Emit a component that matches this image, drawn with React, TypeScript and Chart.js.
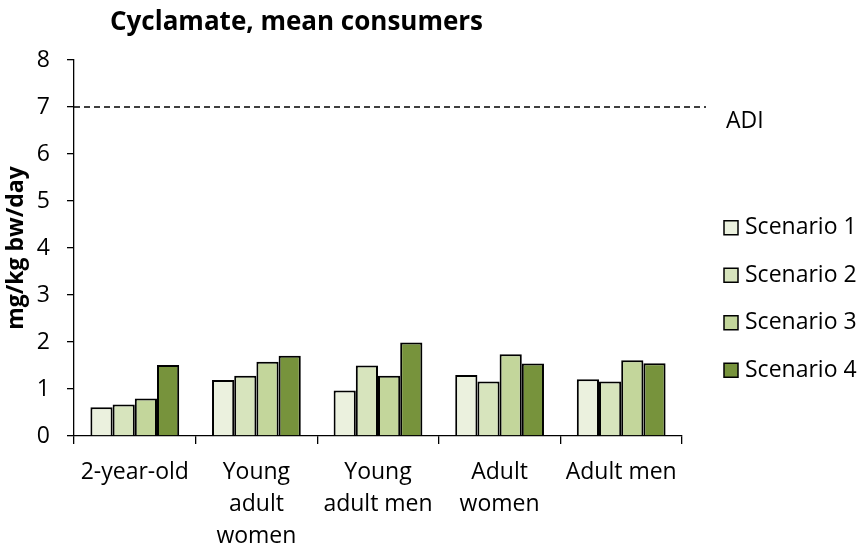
import React, { useEffect, useRef } from "react";
import { Chart, registerables } from "chart.js";

Chart.register(...registerables);

const categories: (string | string[])[] = [
  "2-year-old",
  ["Young", "adult", "women"],
  ["Young", "adult men"],
  ["Adult", "women"],
  "Adult men",
];
const scenario1 = [0.61, 1.19, 0.97, 1.3, 1.21];
const scenario2 = [0.67, 1.28, 1.5, 1.16, 1.16];
const scenario3 = [0.8, 1.58, 1.28, 1.74, 1.61];
const scenario4 = [1.51, 1.71, 1.99, 1.54, 1.55];
const seriesLabels = ["Scenario 1", "Scenario 2", "Scenario 3", "Scenario 4"];
const seriesColors = ["#EBF1DE", "#D7E4BD", "#C3D69B", "#77933C"];
const adiValue = 7;
const adiLabel = "ADI";
const chartTitle = "Cyclamate, mean consumers";
const yTitle = "mg/kg bw/day";
const yTicks = [0, 1, 2, 3, 4, 5, 6, 7, 8];

const FONT = "'Open Sans', sans-serif";

const extrasPlugin = {
  id: "extras",
  afterDatasetsDraw(chart: any) {
    const { ctx, chartArea, scales } = chart;
    const y = scales.y.getPixelForValue(adiValue);
    ctx.save();
    // ADI dashed line
    ctx.strokeStyle = "#000";
    ctx.lineWidth = 1.3;
    ctx.setLineDash([6, 4]);
    ctx.beginPath();
    ctx.moveTo(chartArea.left, y);
    ctx.lineTo(chartArea.right + 24, y);
    ctx.stroke();
    ctx.setLineDash([]);
    // ADI label
    ctx.fillStyle = "#000";
    ctx.font = `23px ${FONT}`;
    ctx.textAlign = "left";
    ctx.textBaseline = "middle";
    ctx.fillText(adiLabel, chartArea.right + 44, y + 14);
    // Title
    ctx.font = `bold 26px ${FONT}`;
    ctx.fillText(chartTitle, chartArea.left + 36, 23);
    // Legend
    const ds = chart.data.datasets;
    const lx = chartArea.right + 42;
    const midY = 299;
    const step = 47.5;
    ds.forEach((d: any, i: number) => {
      const cy = midY + (i - (ds.length - 1) / 2) * step;
      ctx.fillStyle = d.backgroundColor;
      ctx.fillRect(lx, cy - 7, 14, 14);
      ctx.strokeStyle = "#000";
      ctx.lineWidth = 1.5;
      ctx.strokeRect(lx, cy - 7, 14, 14);
      ctx.fillStyle = "#000";
      ctx.font = `23px ${FONT}`;
      ctx.textBaseline = "middle";
      ctx.fillText(d.label, lx + 21, cy);
    });
    ctx.restore();
  },
};

export default function App() {
  const ref = useRef<HTMLCanvasElement | null>(null);
  useEffect(() => {
    if (!ref.current) return;
    const data = [scenario1, scenario2, scenario3, scenario4];
    const chart = new Chart(ref.current, {
      type: "bar",
      data: {
        labels: categories,
        datasets: data.map((vals, i) => ({
          label: seriesLabels[i],
          data: vals,
          backgroundColor: seriesColors[i],
          borderColor: "#000",
          borderWidth: 2,
          borderSkipped: "bottom",
          categoryPercentage: 0.73,
          barPercentage: 1.0,
        })),
      },
      options: {
        responsive: false,
        animation: false,
        layout: { padding: { top: 60, right: 177, left: 0, bottom: 0 } },
        plugins: {
          legend: { display: false },
          title: { display: false },
          tooltip: { enabled: false },
        },
        scales: {
          x: {
            afterFit: (axis: any) => {
              axis.height = 110;
              axis.paddingLeft = 0;
              axis.paddingRight = 0;
            },
            grid: {
              display: true,
              drawOnChartArea: false,
              drawTicks: true,
              tickLength: 8,
              color: "#000",
              lineWidth: 1.3,
              offset: true,
            },
            border: { display: true, color: "#000", width: 1.3 },
            ticks: {
              color: "#000",
              font: { family: FONT, size: 23, lineHeight: 1.4 },
              maxRotation: 0,
              autoSkip: false,
              padding: 12,
            },
          },
          y: {
            min: 0,
            max: 8,
            afterFit: (axis: any) => {
              axis.width = 74;
            },
            afterBuildTicks: (axis: any) => {
              axis.ticks = yTicks.map((v) => ({ value: v }));
            },
            grid: {
              display: true,
              drawOnChartArea: false,
              drawTicks: true,
              tickLength: 7,
              color: "#000",
              lineWidth: 1.3,
            },
            border: { display: true, color: "#000", width: 1.3 },
            ticks: {
              color: "#000",
              font: { family: FONT, size: 23 },
              padding: 17,
            },
            title: {
              display: true,
              text: yTitle,
              color: "#000",
              font: { family: FONT, size: 23, weight: "bold" },
              padding: { top: 3, bottom: 5 },
            },
          },
        },
      },
      plugins: [extrasPlugin],
    });
    return () => chart.destroy();
  }, []);
  return (
    <div style={{ position: "fixed", left: 0, top: 0, width: 859, height: 546, background: "#fff" }}>
      <canvas ref={ref} width={859} height={546} />
    </div>
  );
}
